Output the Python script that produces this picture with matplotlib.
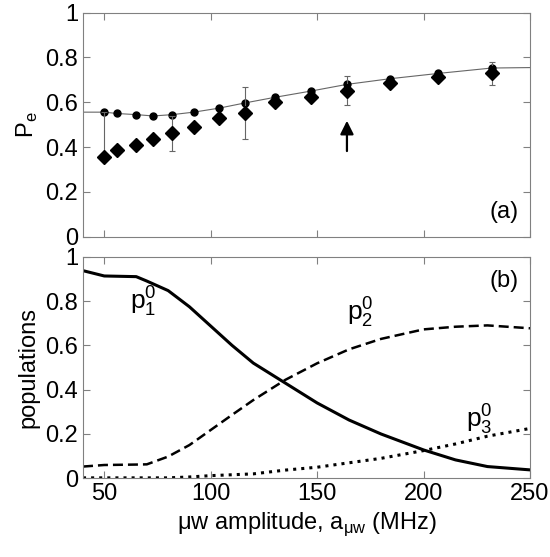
import numpy as np
import matplotlib.pyplot as plt
from matplotlib.ticker import FuncFormatter

plt.rcParams['font.family'] = ['Liberation Sans', 'DejaVu Sans']
plt.rcParams['font.size'] = 17

# panel (a): measured (diamonds) and simulated (dots) P_e
amp = [50, 56, 65, 73, 82, 92, 104, 116, 130, 147, 164, 184, 207, 232]
pe_sim = [0.556, 0.55, 0.545, 0.539, 0.545, 0.556, 0.574, 0.597, 0.622, 0.65, 0.68, 0.705, 0.729, 0.753]
pe_exp = [0.357, 0.388, 0.408, 0.434, 0.461, 0.49, 0.532, 0.553, 0.602, 0.622, 0.652, 0.685, 0.714, 0.729]
err_lo = [0, 0, 0, 0, 0.08, 0, 0, 0.115, 0, 0, 0.065, 0, 0, 0.05]
err_hi = [0.2, 0, 0, 0, 0.08, 0, 0, 0.115, 0, 0, 0.065, 0, 0, 0.05]
line_x = [40] + amp + [250]
line_y = [0.556] + pe_sim + [0.755]

# panel (b): populations
px = [40, 50, 65, 70, 80, 90, 100, 110, 120, 135, 150, 165, 180, 200, 215, 230, 250]
p1 = [0.937, 0.913, 0.91, 0.89, 0.847, 0.774, 0.687, 0.60, 0.52, 0.43, 0.34, 0.263, 0.20, 0.128, 0.083, 0.053, 0.038]
p2 = [0.053, 0.06, 0.062, 0.063, 0.098, 0.15, 0.218, 0.286, 0.353, 0.444, 0.519, 0.582, 0.629, 0.672, 0.684, 0.69, 0.677]
p3 = [0.002, 0.002, 0.002, 0.002, 0.002, 0.006, 0.012, 0.016, 0.02, 0.037, 0.05, 0.07, 0.09, 0.125, 0.155, 0.19, 0.225]

fig = plt.figure(figsize=(5.5, 5.57), dpi=100)
ax1 = fig.add_axes([83/550, 1-236.7/557, 447/550, 224/557])
ax2 = fig.add_axes([83/550, 1-478.3/557, 447/550, 221.6/557])

fmt = FuncFormatter(lambda v, p: '%g' % v)
for ax in (ax1, ax2):
    ax.set_xlim(40, 250)
    ax.set_ylim(0, 1)
    ax.set_xticks([50, 100, 150, 200, 250])
    ax.set_yticks([0, 0.2, 0.4, 0.6, 0.8, 1])
    ax.yaxis.set_major_formatter(fmt)
    ax.tick_params(direction='in', top=True, right=True, length=5, color='0.5')
    for s in ax.spines.values():
        s.set_color('0.5')
        s.set_linewidth(0.8)

ax1.plot(line_x, line_y, color='0.4', lw=0.8)
ax1.plot(amp, pe_sim, 'o', color='black', ms=5)
ax1.errorbar(amp, pe_exp, yerr=[err_lo, err_hi], fmt='D', color='black', ms=7.5,
             ecolor='0.4', elinewidth=0.8, capsize=2, capthick=0.8)
ax1.annotate('', xy=(164, 0.53), xytext=(164, 0.37),
             arrowprops=dict(arrowstyle='-|>', color='black', lw=1.6, mutation_scale=20))
ax1.set_xticklabels([])
ax1.set_ylabel('P$_\\mathregular{e}$')
ax1.text(0.975, 0.06, '(a)', transform=ax1.transAxes, ha='right', va='bottom')

ax2.plot(px, p1, '-', color='black', lw=2.2)
ax2.plot(px, p2, '--', color='black', lw=1.8, dashes=(4, 2))
ax2.plot(px, p3, ':', color='black', lw=2.2)
ax2.text(62, 0.76, '$\\mathregular{p_1^0}$', fontsize=19)
ax2.text(164, 0.71, '$\\mathregular{p_2^0}$', fontsize=19)
ax2.text(220, 0.23, '$\\mathregular{p_3^0}$', fontsize=19)
ax2.text(0.975, 0.94, '(b)', transform=ax2.transAxes, ha='right', va='top')
ax2.set_ylabel('populations')
ax2.set_xlabel('\u03bcw amplitude, a$_{\\mathregular{\u03bcw}}$ (MHz)')

fig.savefig('out.png', dpi=100)
